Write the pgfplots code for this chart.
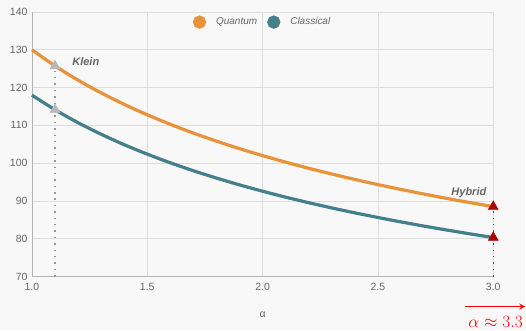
\documentclass[border=0pt]{standalone}
\usepackage{fontspec}
\setmainfont{Liberation Sans}
\usepackage{pgfplots}
\pgfplotsset{compat=1.18}
\definecolor{qorange}{HTML}{E8923A}
\definecolor{cteal}{HTML}{44808C}
\definecolor{bggray}{HTML}{F8F8F8}
\definecolor{gridgray}{HTML}{DDDDDD}
\definecolor{txtgray}{HTML}{666666}
\definecolor{mkred}{HTML}{B00000}
\begin{document}
\begin{tikzpicture}
\fill[bggray] (-32pt,-54pt) rectangle (494pt,277pt);
\begin{axis}[
  scale only axis, width=462pt, height=265pt,
  xmin=1, xmax=3, ymin=70, ymax=140,
  xtick={1,1.5,2,2.5,3}, ytick={70,80,...,140},
  xticklabels={1.0,1.5,2.0,2.5,3.0},
  /pgf/number format/assume math mode=true,
  grid=major, grid style={gridgray, line width=0.6pt},
  axis line style={draw=none},
  axis x line*=bottom, axis y line*=left,
  major tick length=0pt,
  yticklabel style={font=\fontsize{10.5}{12}\selectfont, text=txtgray, xshift=-1pt},
  xticklabel style={font=\fontsize{10.5}{12}\selectfont, text=txtgray, yshift=-3pt},
  xlabel={α}, xlabel style={font=\fontsize{10.5}{12}\selectfont, text=txtgray, yshift=-14pt},
  clip=false,
  legend style={at={(0.5,0.995)}, anchor=north, draw=none, fill=none,
    font=\fontsize{10}{12}\selectfont\itshape, text=txtgray, column sep=8pt},
  legend columns=2,
  legend image code/.code={\fill[#1] (0.3cm,0cm) circle (5pt);},
]
\draw[gray!60, line width=0.8pt] (axis cs:1,70) -- (axis cs:1,140);
\draw[gray!60, line width=0.8pt] (axis cs:1,70) -- (axis cs:3,70);
\addplot[qorange, line width=3.2pt, smooth] coordinates {
(1.0,130.00)(1.1,125.73)(1.2,121.96)(1.3,118.59)(1.4,115.56)(1.5,112.80)(1.6,110.28)(1.7,107.97)(1.8,105.83)(1.9,103.84)(2.0,102.00)(2.1,100.27)(2.2,98.65)(2.3,97.13)(2.4,95.69)(2.5,94.33)(2.6,93.05)(2.7,91.83)(2.8,90.66)(2.9,89.56)(3.0,88.50)};
\addlegendentry{Quantum}
\addplot[cteal, line width=3.2pt, smooth] coordinates {
(1.0,118.00)(1.1,114.13)(1.2,110.71)(1.3,107.65)(1.4,104.89)(1.5,102.39)(1.6,100.10)(1.7,98.00)(1.8,96.06)(1.9,94.26)(2.0,92.58)(2.1,91.01)(2.2,89.54)(2.3,88.16)(2.4,86.86)(2.5,85.63)(2.6,84.46)(2.7,83.35)(2.8,82.30)(2.9,81.29)(3.0,80.33)};
\addlegendentry{Classical}
\addplot[gray!80, line width=1.4pt, dash pattern=on 1.4pt off 5pt, forget plot] coordinates {(1.1,70)(1.1,125.73)};
\addplot[cteal!70!black, line width=1.4pt, dash pattern=on 1.4pt off 5pt, forget plot] coordinates {(3,70)(3,88.5)};
\addplot[only marks, mark=triangle*, mark size=5.8pt, color=gray!55, forget plot] coordinates {(1.1,125.73)(1.1,114.13)};
\addplot[only marks, mark=triangle*, mark size=5.8pt, color=mkred, forget plot] coordinates {(3.0,88.5)(3.0,80.33)};
\node[anchor=west, font=\fontsize{11}{13}\selectfont\bfseries\itshape, text=txtgray] at (axis cs:1.16,126.8) {Klein};
\node[anchor=east, font=\fontsize{11}{13}\selectfont\bfseries\itshape, text=txtgray] at (axis cs:2.985,92.3) {Hybrid};
\end{axis}
\draw[red, line width=1.6pt, -stealth] (434pt,-30pt) -- (494pt,-30pt);
\node[red, anchor=west, font=\fontsize{18}{21}\selectfont, inner sep=0pt] at (437pt,-45pt) {$\alpha \approx 3.3$};
\path[use as bounding box] (-32pt,-54pt) rectangle (494pt,277pt);
\end{tikzpicture}
\end{document}
